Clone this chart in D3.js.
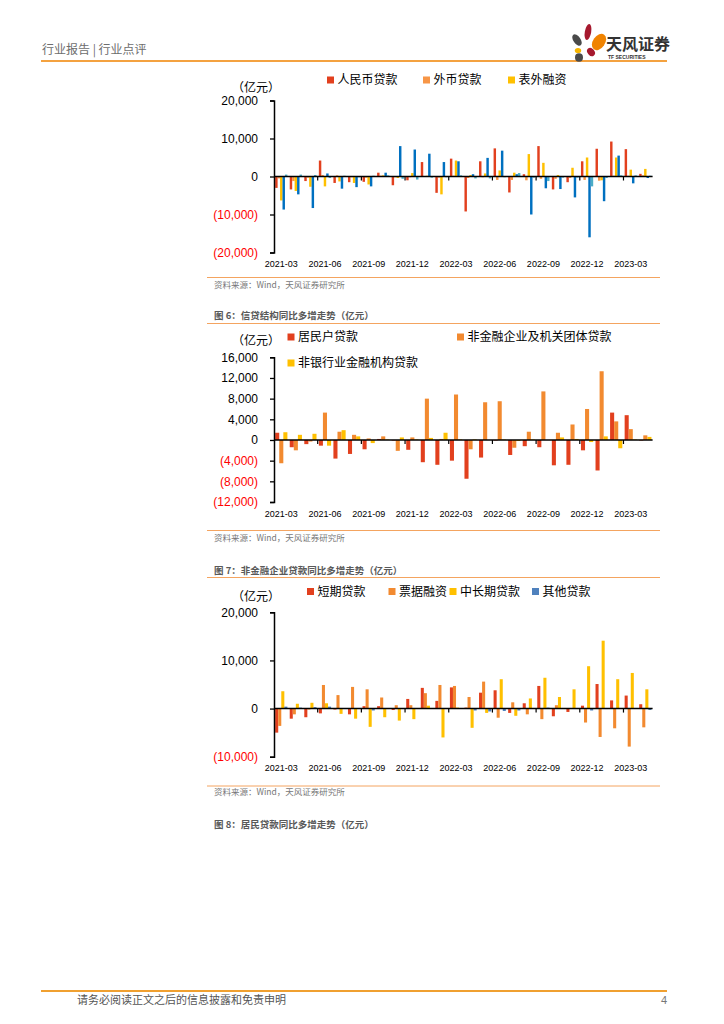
<!DOCTYPE html>
<html>
<head>
<meta charset="utf-8">
<script src="https://cdn.jsdelivr.net/npm/d3@7"></script>
<style>
body { margin: 0; background: #fff; }
svg text { font-family: "Liberation Sans", Arial, "Noto Sans CJK SC", sans-serif; }
svg text.cjk { font-family: "Noto Sans CJK SC", "Noto Sans", sans-serif; }
</style>
</head>
<body>
<svg id="page" width="724" height="1024"></svg>
<script>
// 月份（类目）
var months = ["2021-03","2021-04","2021-05","2021-06","2021-07","2021-08","2021-09","2021-10","2021-11","2021-12",
              "2022-01","2022-02","2022-03","2022-04","2022-05","2022-06","2022-07","2022-08","2022-09","2022-10",
              "2022-11","2022-12","2023-01","2023-02","2023-03","2023-04"];
var xLabels = ["2021-03","2021-06","2021-09","2021-12","2022-03","2022-06","2022-09","2022-12","2023-03"];

// 图5：社融结构同比多增（亿元）
var rmbLoan   = [-3000,-3400,-1200,4200,-1700,-1500,-1400,1000,-2300,-1000,3800,-4300,4700,-9200,4000,7400,-4200,600,8000,-3400,-1500,4000,7300,9200,7200,700];
var fxLoan    = [-500,-1200,-300,400,300,-200,-300,200,-200,-200,100,-300,200,-400,-200,-900,-900,-1000,-600,-600,-400,-900,-1100,200,200,300];
var offBS     = [-6300,-3800,-2700,-2600,-1300,-1700,-2100,300,-400,900,200,-4700,4200,400,800,1600,1000,5900,3600,400,2300,5000,-1000,5000,1800,2000];
var govBond   = [-8700,-4700,-8300,800,-3200,-2800,-2600,1000,8000,7100,6000,3800,4000,600,4900,6800,600,-10000,-3100,-3300,-5500,-16000,-6500,5500,-1800,-400];
var corpBond  = [500,500,400,-400,200,-200,200,300,-600,-800,-300,-200,300,-500,-500,-200,900,-300,-1200,-300,-300,-2600,-400,300,300,200];
var ticks1    = [-20000,-10000,0,10000,20000];

// 图6：信贷结构同比多增走势（亿元）
var hhLoan    = [1400,-1400,-800,-1100,-3600,-2700,-1800,200,-100,-1900,-4300,-4800,-4000,-7500,-3400,-100,-2900,-1200,-1400,-4900,-4800,-2000,-5900,5300,4800,-100];
var corpLoan  = [-4500,-2000,-300,5300,1600,1000,300,700,-2100,500,8000,200,8800,-1800,7300,7500,-1500,1600,9400,1400,3000,6000,13300,3600,2100,900];
var nbfiLoan  = [1500,1000,1200,-1100,1900,700,-600,100,500,100,400,1400,100,100,0,100,-200,100,0,500,200,-400,700,-1600,100,600];
var ticks2    = [-12000,-8000,-4000,0,4000,8000,12000,16000];

// 图7：非金融企业贷款同比多增走势（亿元）
var shortLoan = [-5000,-2100,-1800,-1000,-200,-1200,500,500,-300,2000,4300,1600,4400,200,3300,3800,-900,1100,4700,-1600,-700,600,5100,1700,2700,900];
var billFin   = [-3600,-1200,-200,4900,2800,4500,4000,2300,700,700,3200,4900,4700,2400,5600,-1900,1300,-1200,-2200,700,100,-2900,-5900,-4100,-7900,-3900];
var mltLoan   = [3600,1000,1200,1100,-1100,-2100,-3800,-1800,-2500,-2200,600,-6000,200,-4000,-900,6100,-1500,2100,6400,2400,4000,8800,14100,6100,7400,4000];
var otherLoan = [400,200,300,400,100,-100,-400,-100,-100,0,0,0,0,-400,-600,-500,-400,0,200,0,0,-400,-100,0,0,-300];
var ticks3    = [-10000,0,10000,20000];

var svg = d3.select("#page");
svg.append("rect").attr("width", 724).attr("height", 1024).attr("fill", "#fff");

var ORANGE_LINE = "#F4A460";
var num = d3.format(",");
function fmt(d) { return d < 0 ? "(" + num(-d) + ")" : num(d); }

// ---------- 页眉 ----------
svg.append("text").attr("class", "cjk").attr("x", 42).attr("y", 54)
    .attr("font-size", 12).attr("fill", "#6d6d6d").text("行业报告 | 行业点评");
svg.append("line").attr("x1", 41).attr("x2", 667).attr("y1", 61).attr("y2", 61)
    .attr("stroke", "#F08300").attr("stroke-width", 1.5);

// logo
var logo = svg.append("g");
[
  {cx: 588, cy: 32, rx: 3.2, ry: 8, r: 10, c: "#A6192E"},
  {cx: 599, cy: 42, rx: 6, ry: 9, r: 35, c: "#F08300"},
  {cx: 577, cy: 40, rx: 3.6, ry: 6.5, r: -35, c: "#4a4a4a"},
  {cx: 578, cy: 50.5, rx: 3.2, ry: 2.6, r: 0, c: "#F7B500"},
  {cx: 591, cy: 52, rx: 3.4, ry: 4.6, r: -40, c: "#A6192E"},
  {cx: 579, cy: 57.5, rx: 4, ry: 4.2, r: 0, c: "#4a4a4a"}
].forEach(function(p) {
  logo.append("ellipse").attr("cx", p.cx).attr("cy", p.cy).attr("rx", p.rx).attr("ry", p.ry)
      .attr("transform", "rotate(" + p.r + "," + p.cx + "," + p.cy + ")").attr("fill", p.c);
});
logo.append("text").attr("class", "cjk").attr("x", 606).attr("y", 50).attr("font-size", 16)
    .attr("font-weight", "bold").attr("fill", "#333").text("天风证券");
logo.append("text").attr("x", 608).attr("y", 58.5).attr("font-size", 5).attr("font-weight", "bold")
    .attr("fill", "#333").text("TF SECURITIES");

// ---------- 页脚 ----------
svg.append("line").attr("x1", 41).attr("x2", 667).attr("y1", 991).attr("y2", 991)
    .attr("stroke", "#F0A030").attr("stroke-width", 2);
svg.append("text").attr("class", "cjk").attr("x", 77).attr("y", 1004).attr("font-size", 11)
    .attr("fill", "#555").text("请务必阅读正文之后的信息披露和免责申明");
svg.append("text").attr("x", 667).attr("y", 1004).attr("font-size", 11).attr("text-anchor", "end")
    .attr("fill", "#777").text("4");

// ---------- 图表 ----------
function sourceNote(y) {
  svg.append("text").attr("class", "cjk").attr("x", 214).attr("y", y).attr("font-size", 8.5)
      .attr("fill", "#777").text("资料来源：Wind，天风证券研究所");
}
function titleLine(y, text) {
  if (text) {
    svg.append("text").attr("class", "cjk").attr("x", 214).attr("y", y).attr("font-size", 9.5)
        .attr("font-weight", "bold").attr("fill", "#595959").text(text);
  }
}
function hline(y) {
  svg.append("line").attr("x1", 207).attr("x2", 660).attr("y1", y).attr("y2", y)
      .attr("stroke", ORANGE_LINE).attr("stroke-width", 1);
}

function drawChart(opt) {
  var g = svg.append("g");
  var x0 = d3.scaleBand().domain(months).range([274, 652.6]).paddingInner(0.16).paddingOuter(0.08);
  var x1 = d3.scaleBand().domain(d3.range(opt.series.length)).range([0, x0.bandwidth()]);
  var y = d3.scaleLinear().domain(opt.domain).range(opt.range);

  opt.series.forEach(function(s, k) {
    g.append("g").selectAll("rect")
      .data(s.values)
      .enter().append("rect")
        .attr("x", function(d, i) { return x0(months[i]) + x1(k); })
        .attr("width", x1.bandwidth())
        .attr("y", function(d) { return y(Math.max(0, d)); })
        .attr("height", function(d) { return Math.abs(y(d) - y(0)); })
        .attr("fill", s.color);
  });

  // 纵轴
  var ya = g.append("g").attr("transform", "translate(274,0)")
    .call(d3.axisLeft(y).tickValues(opt.ticks).tickSize(4).tickSizeOuter(4).tickPadding(12).tickFormat(fmt));
  ya.select(".domain").attr("stroke", "#000").attr("stroke-width", 1.5);
  ya.selectAll(".tick line").attr("stroke", "#000").attr("stroke-width", 1.3);
  ya.selectAll(".tick text").attr("font-size", 12)
    .attr("fill", function(d) { return d < 0 ? "#FF0000" : "#000"; });

  // 零线与刻度
  g.append("line").attr("x1", 274).attr("x2", 652.6).attr("y1", y(0)).attr("y2", y(0))
    .attr("stroke", "#000").attr("stroke-width", 1.5);
  var bounds = d3.range(3, months.length, 3).map(function(k) { return x0.range()[0] + k * x0.step(); });
  g.selectAll("line.xt").data(bounds).enter().append("line").attr("class", "xt")
    .attr("x1", function(d) { return d; }).attr("x2", function(d) { return d; })
    .attr("y1", y(0)).attr("y2", y(0) + 4).attr("stroke", "#000").attr("stroke-width", 1.2);

  // 横轴标签
  var xa = g.append("g").attr("transform", "translate(0," + opt.labelY + ")")
    .call(d3.axisBottom(x0).tickValues(xLabels).tickSize(0).tickPadding(0));
  xa.select(".domain").remove();
  xa.selectAll(".tick text").attr("font-size", 9).attr("fill", "#000");

  // 单位
  svg.append("text").attr("class", "cjk").attr("x", 232).attr("y", opt.unitY).attr("font-size", 12)
    .attr("fill", "#000").text("（亿元）");

  // 图例
  opt.legend.forEach(function(l) {
    svg.append("rect").attr("x", l.x).attr("y", l.y - 3.5).attr("width", 7).attr("height", 7).attr("fill", l.color);
    svg.append("text").attr("class", "cjk").attr("x", l.x + 10.5).attr("y", l.y + 4.3).attr("font-size", 12)
      .attr("fill", "#000").text(l.name);
  });
}

var RED = "#E2401E", ORG = "#F79646", ORG2 = "#F28A30", YEL = "#FFC000", BLUE = "#0070C0", LBLUE = "#4BACC6", SBLUE = "#4F81BD";

// 图5
drawChart({
  series: [
    {name: "人民币贷款", values: rmbLoan, color: RED},
    {name: "外币贷款", values: fxLoan, color: ORG},
    {name: "表外融资", values: offBS, color: YEL},
    {name: "政府债券", values: govBond, color: BLUE},
    {name: "企业债券", values: corpBond, color: LBLUE}
  ],
  domain: [-20000, 20000], range: [252.5, 100.5], ticks: ticks1,
  labelY: 261, unitY: 92,
  legend: [
    {name: "人民币贷款", color: RED, x: 327, y: 80},
    {name: "外币贷款", color: ORG, x: 423, y: 80},
    {name: "表外融资", color: YEL, x: 508, y: 80}
  ]
});
hline(277.5);
sourceNote(288);

// 图6
titleLine(319, "图 6：信贷结构同比多增走势（亿元）");
hline(323.5);
drawChart({
  series: [
    {name: "居民户贷款", values: hhLoan, color: RED},
    {name: "非金融企业及机关团体贷款", values: corpLoan, color: ORG2},
    {name: "非银行业金融机构贷款", values: nbfiLoan, color: YEL}
  ],
  domain: [-12000, 16000], range: [502, 357.3], ticks: ticks2,
  labelY: 511, unitY: 345,
  legend: [
    {name: "居民户贷款", color: RED, x: 287.5, y: 337},
    {name: "非金融企业及机关团体贷款", color: ORG2, x: 457, y: 337},
    {name: "非银行业金融机构贷款", color: YEL, x: 287.5, y: 363}
  ]
});
hline(530.5);
sourceNote(541);

// 图7
titleLine(574, "图 7：非金融企业贷款同比多增走势（亿元）");
hline(577.5);
drawChart({
  series: [
    {name: "短期贷款", values: shortLoan, color: RED},
    {name: "票据融资", values: billFin, color: ORG2},
    {name: "中长期贷款", values: mltLoan, color: YEL},
    {name: "其他贷款", values: otherLoan, color: SBLUE}
  ],
  domain: [-10000, 20000], range: [756.7, 612.3], ticks: ticks3,
  labelY: 765, unitY: 601,
  legend: [
    {name: "短期贷款", color: RED, x: 307, y: 591.5},
    {name: "票据融资", color: ORG2, x: 388.5, y: 591.5},
    {name: "中长期贷款", color: YEL, x: 449.5, y: 591.5},
    {name: "其他贷款", color: SBLUE, x: 532, y: 591.5}
  ]
});
hline(786);
sourceNote(795);

titleLine(828, "图 8：居民贷款同比多增走势（亿元）");
</script>
</body>
</html>
